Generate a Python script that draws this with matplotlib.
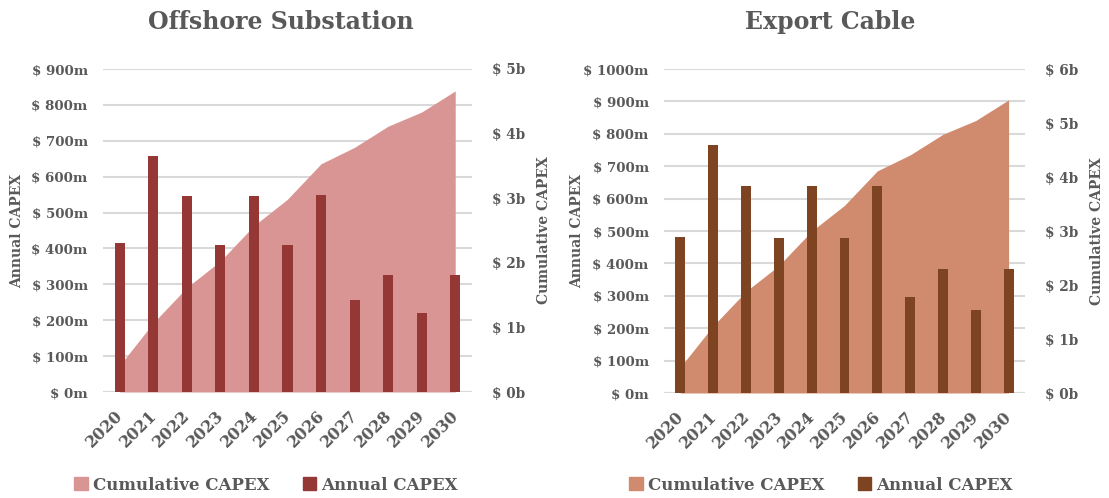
import matplotlib
matplotlib.use("Agg")
import matplotlib.pyplot as plt
import numpy as np
from matplotlib.patches import Patch
from matplotlib.ticker import FixedLocator
from matplotlib.transforms import ScaledTranslation

years = ["2020", "2021", "2022", "2023", "2024", "2025", "2026", "2027", "2028", "2029", "2030"]

# Annual CAPEX ($m)
substation_annual = [414, 657, 547, 410, 547, 410, 548, 255, 327, 219, 327]
cable_annual = [480, 765, 638, 477, 638, 477, 638, 296, 382, 255, 382]

# Cumulative CAPEX ($b)
substation_cum = [0.414, 1.071, 1.618, 2.028, 2.575, 2.985, 3.533, 3.788, 4.115, 4.334, 4.661]
cable_cum = [0.480, 1.245, 1.883, 2.360, 2.998, 3.475, 4.113, 4.409, 4.791, 5.046, 5.428]

TXT = "#595959"
GRID = "#D9D9D9"
FONT = "DejaVu Serif"

fig = plt.figure(figsize=(11.09, 4.98), dpi=100)
W, H = 1109, 498


def panel(left_px, right_px, top_px, bot_px, title, title_x, annual, cum,
          ymax_a, ystep_a, ymax_c, area_col, bar_col, leg_x, ylabel_a_x, ylabel_c_x):
    rect = [left_px / W, 1 - bot_px / H, (right_px - left_px) / W, (bot_px - top_px) / H]
    ax1 = fig.add_axes(rect)
    ax2 = ax1.twinx()
    ax3 = ax1.twinx()
    x = np.arange(len(years))
    for a in (ax1, ax2, ax3):
        a.set_xlim(-0.5, len(years) - 0.5)
        for s in a.spines.values():
            s.set_visible(False)
        a.patch.set_visible(False)
    ax1.set_ylim(0, ymax_a)
    ax3.set_ylim(0, ymax_a)
    ax2.set_ylim(0, ymax_c)
    # gridlines
    ax1.yaxis.set_major_locator(FixedLocator(np.arange(0, ymax_a + 1, ystep_a)))
    ax1.grid(axis="y", color=GRID, linewidth=1.5)
    ax1.set_axisbelow(True)
    ax1.tick_params(axis="y", length=0, pad=11, labelsize=9.6, labelcolor=TXT)
    ax1.set_yticklabels([f"$ {int(v)}m" for v in np.arange(0, ymax_a + 1, ystep_a)],
                        fontfamily=FONT, fontweight="bold")
    # area
    ax2.fill_between(x, 0, cum, color=area_col, linewidth=0)
    ax2.yaxis.set_major_locator(FixedLocator(np.arange(0, ymax_c + 1, 1)))
    ax2.set_yticklabels([f"$ {int(v)}b" for v in np.arange(0, ymax_c + 1, 1)],
                        fontfamily=FONT, fontweight="bold")
    ax2.tick_params(axis="y", length=0, pad=14.5, labelsize=9.8, labelcolor=TXT)
    # bars
    ax3.bar(x, annual, width=0.3, color=bar_col, linewidth=0)
    ax3.set_yticks([])
    # x ticks
    ax1.set_xticks(x)
    ax1.set_xticklabels(years, rotation=45, ha="right", rotation_mode="anchor",
                        fontfamily=FONT, fontweight="bold", fontsize=11.5, color=TXT)
    ax1.tick_params(axis="x", length=0, pad=11)
    shift = ScaledTranslation(-5 / 100, 0, fig.dpi_scale_trans)
    for lab in ax1.get_xticklabels():
        lab.set_transform(lab.get_transform() + shift)
    # bottom baseline
    ax1.axhline(0, color=GRID, linewidth=1.5)
    # labels
    yc = 1 - ((top_px + bot_px) / 2) / H
    fig.text(ylabel_a_x / W, yc, "Annual CAPEX", rotation=90, ha="center", va="center",
             fontfamily=FONT, fontweight="bold", fontsize=10, color=TXT)
    fig.text(ylabel_c_x / W, yc, "Cumulative CAPEX", rotation=90, ha="center", va="center",
             fontfamily=FONT, fontweight="bold", fontsize=10, color=TXT)
    fig.text(title_x / W, 1 - 22 / H, title, ha="center", va="center",
             fontfamily=FONT, fontweight="bold", fontsize=17, color=TXT)
    handles = [Patch(color=area_col, label="Cumulative CAPEX"),
               Patch(color=bar_col, label="Annual CAPEX")]
    fig.legend(handles=handles, loc="center", bbox_to_anchor=(leg_x / W, 1 - 485 / H),
               ncol=2, frameon=False, handlelength=0.8, handleheight=0.8,
               handletextpad=0.3, columnspacing=2.0,
               prop={"family": FONT, "weight": "bold", "size": 12}, labelcolor=TXT)


panel(103, 472, 69, 392, "Offshore Substation", 281, substation_annual, substation_cum,
      900, 100, 5, "#D99594", "#953735", 266, 17, 544)
panel(664, 1025, 69, 393, "Export Cable", 830, cable_annual, cable_cum,
      1000, 100, 6, "#D08A6E", "#7E4320", 821, 577, 1097)

fig.savefig("out.png", dpi=100)
